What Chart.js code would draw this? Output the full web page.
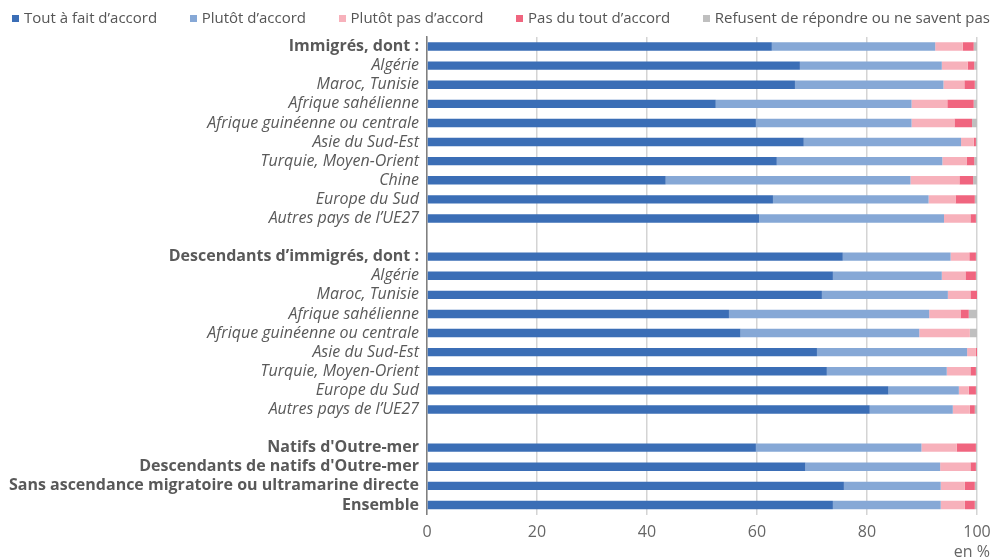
<!DOCTYPE html>
<html>
<head>
<meta charset="utf-8">
<script src="https://cdn.jsdelivr.net/npm/chart.js@4/dist/chart.umd.min.js"></script>
<style>
  html, body { margin: 0; padding: 0; background: #fff; }
  #wrap { width: 994px; height: 558px; position: relative; }
  #legend {
    position: absolute; left: 12px; right: 4px; top: 7px;
    display: flex; justify-content: space-between;
    font-family: 'Open Sans', sans-serif; font-size: 15px; color: #555;
    line-height: 20px; white-space: nowrap;
  }
  #legend span.box {
    display: inline-block; width: 7px; height: 7px; margin-right: 5px;
    vertical-align: 1px;
  }
</style>
</head>
<body>
<div id="wrap">
  <canvas id="chart"></canvas>
  <div id="legend"></div>
</div>
<script>
// categories (empty strings are spacer rows)
const categories = [
    'Immigrés, dont :', 'Algérie', 'Maroc, Tunisie', 'Afrique sahélienne',
    'Afrique guinéenne ou centrale', 'Asie du Sud-Est', 'Turquie, Moyen-Orient',
    'Chine', 'Europe du Sud', 'Autres pays de l’UE27',
    '',
    'Descendants d’immigrés, dont :', 'Algérie', 'Maroc, Tunisie', 'Afrique sahélienne',
    'Afrique guinéenne ou centrale', 'Asie du Sud-Est', 'Turquie, Moyen-Orient',
    'Europe du Sud', 'Autres pays de l’UE27',
    '',
    "Natifs d'Outre-mer", "Descendants de natifs d'Outre-mer",
    'Sans ascendance migratoire ou ultramarine directe', 'Ensemble'
];
const boldRows = [0, 11, 21, 22, 23, 24];

const toutAFait = [62.7, 67.8, 66.9, 52.5, 59.8, 68.5, 63.6, 43.4, 62.9, 60.4, null,
    75.6, 73.8, 71.8, 54.9, 57.0, 70.9, 72.7, 83.9, 80.5, null,
    59.8, 68.8, 75.8, 73.8];
const plutot = [29.7, 25.8, 27.0, 35.6, 28.3, 28.6, 30.1, 44.5, 28.3, 33.6, null,
    19.6, 19.8, 22.9, 36.4, 32.5, 27.3, 21.8, 12.8, 15.1, null,
    30.1, 24.5, 17.6, 19.6];
const plutotPas = [5.0, 4.7, 3.8, 6.5, 7.8, 2.3, 4.4, 8.9, 4.9, 4.8, null,
    3.4, 4.3, 4.1, 5.7, 9.2, 1.6, 4.3, 1.8, 3.1, null,
    6.4, 5.5, 4.4, 4.4];
const pasDuTout = [2.0, 1.2, 1.9, 4.8, 3.2, 0.4, 1.4, 2.5, 3.5, 1.0, null,
    1.2, 1.9, 1.2, 1.5, 0, 0.2, 1.0, 1.3, 0.9, null,
    3.5, 1.0, 1.8, 1.8];
const refusent = [0.6, 0.5, 0.4, 0.6, 0.9, 0.2, 0.5, 0.7, 0.4, 0.2, null,
    0.2, 0.2, 0, 1.5, 1.3, 0, 0.2, 0.2, 0.4, null,
    0.2, 0.2, 0.4, 0.4];

const seriesNames = ['Tout à fait d’accord', 'Plutôt d’accord', 'Plutôt pas d’accord',
    'Pas du tout d’accord', 'Refusent de répondre ou ne savent pas'];
const seriesColors = ['#3b6eb6', '#86a8d6', '#f7b1bb', '#f0657f', '#bfbfbf'];
const xTicks = [0, 20, 40, 60, 80, 100];

const allSeries = [toutAFait, plutot, plutotPas, pasDuTout, refusent];

// legend built from the series names
const legendDiv = document.getElementById('legend');
seriesNames.forEach((name, i) => {
    const item = document.createElement('div');
    item.innerHTML = '<span class="box" style="background:' + seriesColors[i] + '"></span>' + name;
    legendDiv.appendChild(item);
});

// "en %" under the right end of the x axis
const unitLabel = {
    id: 'unitLabel',
    afterDraw(chart) {
        const ctx = chart.ctx;
        ctx.save();
        ctx.font = '16px "Open Sans"';
        ctx.fillStyle = '#666';
        ctx.textAlign = 'right';
        ctx.textBaseline = 'alphabetic';
        ctx.fillText('en %', 990, 557);
        ctx.restore();
    }
};

new Chart(document.getElementById('chart'), {
    type: 'bar',
    data: {
        labels: categories,
        datasets: allSeries.map((vals, i) => ({
            label: seriesNames[i],
            data: vals,
            backgroundColor: seriesColors[i],
            borderWidth: 0,
            barPercentage: 0.44,
            categoryPercentage: 1
        }))
    },
    plugins: [unitLabel],
    options: {
        indexAxis: 'y',
        responsive: true,
        maintainAspectRatio: false,
        animation: false,
        layout: { padding: { top: 37, right: 17, left: 0, bottom: 0 } },
        plugins: {
            tooltip: { enabled: false },
            legend: { display: false }
        },
        scales: {
            x: {
                stacked: true,
                min: 0,
                max: 100,
                afterBuildTicks: (scale) => { scale.ticks = xTicks.map(v => ({ value: v })); },
                afterFit: (scale) => {
                    scale.height = 43.5;
                    scale.paddingLeft = 0;
                    scale.paddingRight = 0;
                },
                grid: { color: '#d4d4d4', lineWidth: 1.5, drawTicks: false },
                border: { display: false },
                ticks: {
                    font: { family: 'Open Sans', size: 16 },
                    color: '#666',
                    padding: 8
                }
            },
            y: {
                stacked: true,
                afterFit: (scale) => { scale.width = 427; },
                grid: { display: false, drawTicks: false },
                border: { display: true, color: '#808080', width: 1.5 },
                ticks: {
                    autoSkip: false,
                    padding: 8,
                    color: '#595959',
                    font: (ctx) => boldRows.includes(ctx.index)
                        ? { family: 'Open Sans', size: 16, weight: 'bold' }
                        : { family: 'Open Sans', size: 16, style: 'italic' }
                }
            }
        }
    }
});
</script>
</body>
</html>
